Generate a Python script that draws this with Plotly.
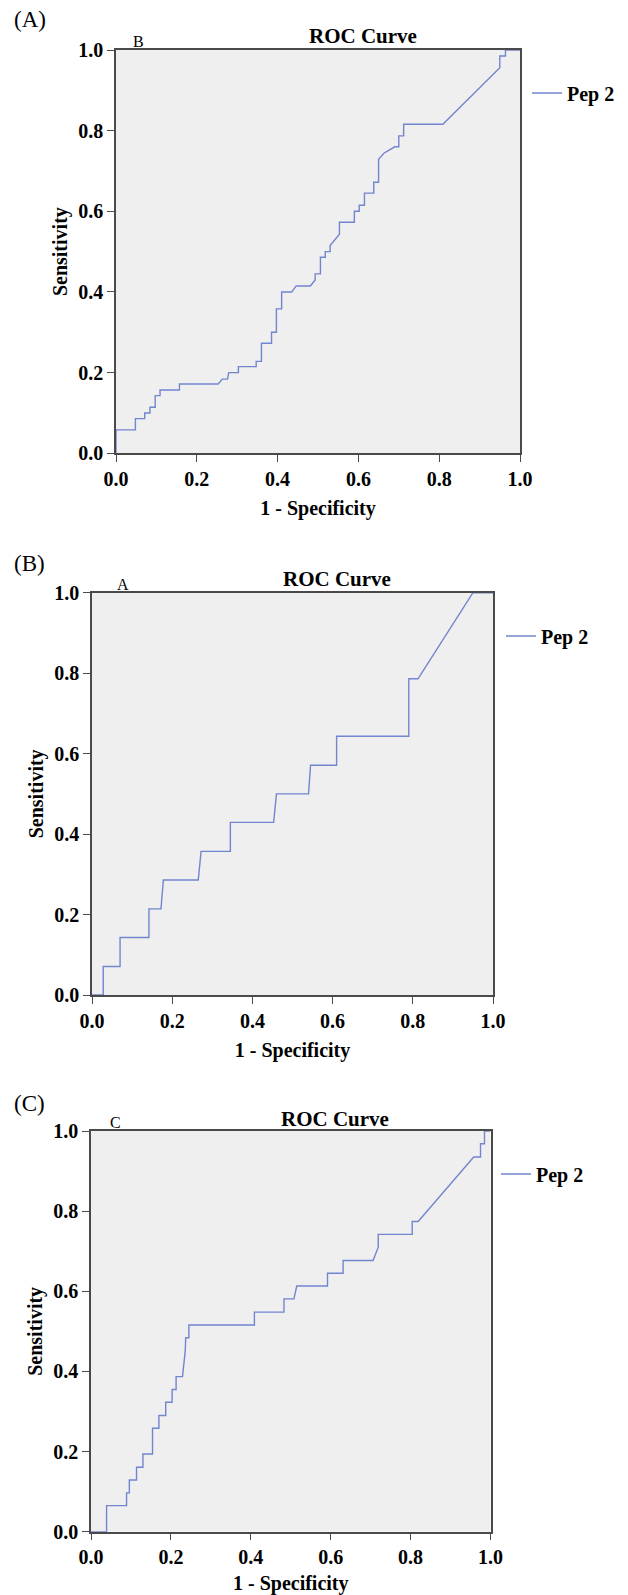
import plotly.graph_objects as go

W, H = 628, 1595

# ---------------- data ----------------
A_fpr = [0.000, 0.000, 0.048, 0.048, 0.071, 0.071, 0.084, 0.084, 0.097, 0.097, 0.109, 0.109, 0.157, 0.157,
         0.253, 0.263, 0.276, 0.279, 0.303, 0.303, 0.347, 0.347, 0.360, 0.360, 0.385, 0.385, 0.397, 0.397,
         0.410, 0.410, 0.435, 0.446, 0.481, 0.493, 0.493, 0.506, 0.506, 0.518, 0.518, 0.530, 0.530, 0.553,
         0.553, 0.590, 0.590, 0.602, 0.602, 0.615, 0.615, 0.638, 0.638, 0.650, 0.650, 0.663, 0.690, 0.700,
         0.700, 0.712, 0.712, 0.809, 0.950, 0.950, 0.964, 0.964, 1.000]
A_tpr = [0.000, 0.058, 0.058, 0.086, 0.086, 0.100, 0.100, 0.114, 0.114, 0.143, 0.143, 0.157, 0.157, 0.172,
         0.172, 0.184, 0.184, 0.200, 0.200, 0.215, 0.215, 0.228, 0.228, 0.273, 0.273, 0.300, 0.300, 0.358,
         0.358, 0.400, 0.400, 0.415, 0.415, 0.430, 0.445, 0.445, 0.486, 0.486, 0.500, 0.500, 0.515, 0.543,
         0.573, 0.573, 0.600, 0.600, 0.615, 0.615, 0.645, 0.645, 0.672, 0.672, 0.729, 0.744, 0.760, 0.760,
         0.787, 0.787, 0.816, 0.816, 0.956, 0.985, 0.985, 1.000, 1.000]

B_fpr = [0.000, 0.028, 0.028, 0.070, 0.070, 0.142, 0.142, 0.172, 0.178, 0.265, 0.272, 0.345, 0.345, 0.453,
         0.460, 0.540, 0.545, 0.610, 0.610, 0.790, 0.790, 0.813, 0.950, 1.000]
B_tpr = [0.000, 0.000, 0.071, 0.071, 0.143, 0.143, 0.214, 0.214, 0.286, 0.286, 0.357, 0.357, 0.429, 0.429,
         0.500, 0.500, 0.571, 0.571, 0.643, 0.643, 0.786, 0.786, 1.000, 1.000]

C_fpr = [0.000, 0.039, 0.039, 0.089, 0.089, 0.096, 0.096, 0.114, 0.114, 0.130, 0.130, 0.154, 0.154, 0.170,
         0.170, 0.187, 0.187, 0.203, 0.203, 0.213, 0.213, 0.229, 0.236, 0.237, 0.245, 0.245, 0.409, 0.409,
         0.483, 0.483, 0.508, 0.515, 0.592, 0.592, 0.631, 0.631, 0.706, 0.719, 0.719, 0.804, 0.804, 0.819,
         0.958, 0.975, 0.975, 0.985, 0.985, 1.000]
C_tpr = [0.000, 0.000, 0.065, 0.065, 0.097, 0.097, 0.129, 0.129, 0.161, 0.161, 0.194, 0.194, 0.258, 0.258,
         0.290, 0.290, 0.323, 0.323, 0.355, 0.355, 0.387, 0.387, 0.452, 0.484, 0.484, 0.516, 0.516, 0.548,
         0.548, 0.581, 0.581, 0.613, 0.613, 0.645, 0.645, 0.677, 0.677, 0.710, 0.742, 0.742, 0.774, 0.774,
         0.935, 0.935, 0.968, 0.968, 1.000, 1.000]

tick_vals = [0.0, 0.2, 0.4, 0.6, 0.8, 1.0]
tick_text = ["0.0", "0.2", "0.4", "0.6", "0.8", "1.0"]
series_name = "Pep 2"
panel_labels = ["(A)", "(B)", "(C)"]
corner_letters = ["B", "A", "C"]
chart_title = "ROC Curve"
x_title = "1 - Specificity"
y_title = "Sensitivity"

# ---------------- layout geometry (pixels) ----------------
panels = [
    dict(fpr=A_fpr, tpr=A_tpr, x0=116, x1=520, top=50, bot=453.3,
         leg_x=567, leg_y=93, title=(363, 36), letter=(138, 41), plabel=(12, 20)),
    dict(fpr=B_fpr, tpr=B_tpr, x0=92, x1=493, top=592.7, bot=995,
         leg_x=541, leg_y=636, title=(337, 579), letter=(123, 584), plabel=(12, 563)),
    dict(fpr=C_fpr, tpr=C_tpr, x0=91, x1=490.5, top=1131, bot=1531.7,
         leg_x=536, leg_y=1174, title=(335, 1119), letter=(116, 1122), plabel=(12, 1103)),
]

SERIF = "Liberation Serif"
LINE_COLOR = "#7285CF"
FRAME = "#4a4a4a"

fig = go.Figure()
layout = dict(width=W, height=H, autosize=False, margin=dict(l=0, r=0, t=0, b=0, autoexpand=False),
              paper_bgcolor="white", plot_bgcolor="#EFEFEF",
              font=dict(family=SERIF, color="black"))
annotations = []

for i, p in enumerate(panels):
    n = "" if i == 0 else str(i + 1)
    leg = "legend" + n
    fig.add_trace(go.Scatter(x=p["fpr"], y=p["tpr"], mode="lines", name=series_name,
                             line=dict(color=LINE_COLOR, width=1.4), cliponaxis=False,
                             xaxis="x" + n, yaxis="y" + n, legend=leg, showlegend=True))
    ax_common = dict(range=[0, 1], showgrid=False, zeroline=False, showline=True, linecolor=FRAME,
                     linewidth=1.5, mirror=True, ticks="outside", ticklen=7, tickwidth=1.2,
                     tickcolor=FRAME, tickvals=tick_vals, ticktext=tick_text, fixedrange=True,
                     automargin=False,
                     tickfont=dict(family=SERIF, size=20, weight="bold", color="black"))
    layout["xaxis" + n] = dict(ax_common, domain=[p["x0"] / W, p["x1"] / W], anchor="y" + n,
                               ticklabelstandoff=0,
                               title=dict(text=x_title, standoff=12,
                                          font=dict(family=SERIF, size=20, weight="bold")))
    layout["yaxis" + n] = dict(ax_common, domain=[1 - p["bot"] / H, 1 - p["top"] / H], anchor="x" + n,
                               ticklabelstandoff=0,
                               title=dict(text=y_title, standoff=5,
                                          font=dict(family=SERIF, size=20, weight="bold")))
    layout[leg] = dict(x=(p["leg_x"] - 40) / W, xanchor="left", y=1 - p["leg_y"] / H, yanchor="middle",
                       bgcolor="rgba(0,0,0,0)", borderwidth=0,
                       font=dict(family=SERIF, size=20, weight="bold", color="black"))
    tx, ty = p["title"]
    annotations.append(dict(text=chart_title, x=tx / W, y=1 - ty / H, xref="paper", yref="paper",
                            showarrow=False, xanchor="center", yanchor="middle",
                            font=dict(family=SERIF, size=21, weight="bold", color="black")))
    lx, ly = p["letter"]
    annotations.append(dict(text=corner_letters[i], x=lx / W, y=1 - ly / H, xref="paper", yref="paper",
                            showarrow=False, xanchor="center", yanchor="middle",
                            font=dict(family=SERIF, size=16, color="black")))
    px_, py_ = p["plabel"]
    annotations.append(dict(text=panel_labels[i], x=px_ / W, y=1 - py_ / H, xref="paper", yref="paper",
                            showarrow=False, xanchor="left", yanchor="middle",
                            font=dict(family=SERIF, size=23, color="black")))

layout["annotations"] = annotations
fig.update_layout(**layout)
fig.write_html("out.html", config={"displayModeBar": False},
               post_script="document.body.style.margin='0';document.body.style.overflow='hidden';")
